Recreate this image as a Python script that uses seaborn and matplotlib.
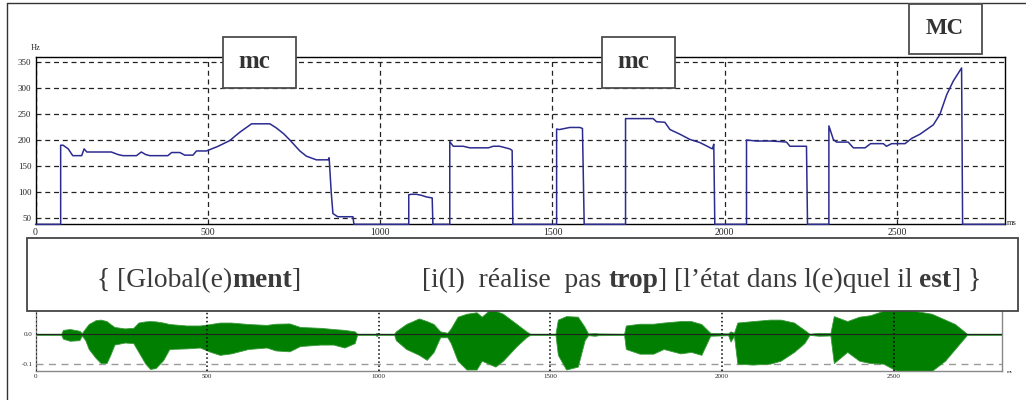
import numpy as np
import pandas as pd
import matplotlib
matplotlib.use("Agg")
import matplotlib.pyplot as plt
import seaborn as sns
from matplotlib.patches import Rectangle
from matplotlib.lines import Line2D

# ---- F0 contour (time in ms, f0 in Hz; 0 = unvoiced frame) ----
f0_time = [0, 73, 73, 80, 95, 108, 134, 141, 149, 220, 240, 254, 293, 307, 320,
           332, 384, 395, 419, 433, 457, 467, 496, 530, 564, 580, 593, 627, 680,
           699, 720, 738, 767, 786, 815, 849, 852, 858, 863, 877, 921, 924,
           1083, 1083, 1090, 1105, 1120, 1134, 1151, 1153,
           1202, 1202, 1212, 1241, 1260, 1314, 1328, 1347, 1376, 1383, 1385,
           1512, 1512, 1520, 1550, 1580, 1587, 1592,
           1712, 1712, 1792, 1802, 1826, 1841, 1870, 1899, 1928, 1964, 1968, 1971,
           2063, 2063, 2092, 2131, 2160, 2179, 2189, 2237, 2240,
           2302, 2302, 2315, 2324, 2358, 2373, 2407, 2423, 2460, 2469, 2484, 2523,
           2542, 2566, 2605, 2624, 2644, 2663, 2687, 2690, 2813]
f0_hz = [0, 0, 190, 190, 183, 170, 170, 183, 177, 177, 172, 170, 170, 177, 172,
         170, 170, 176, 176, 171, 171, 179, 179, 188, 199, 208, 215, 231, 231,
         223, 212, 200, 179, 169, 162, 162, 166, 100, 59, 53, 53, 0,
         0, 95, 96, 96, 94, 91, 89, 0,
         0, 197, 188, 188, 185, 185, 188, 188, 183, 180, 0,
         0, 221, 220, 224, 224, 222, 0,
         0, 241, 241, 235, 234, 220, 211, 201, 195, 183, 192, 0,
         0, 200, 198, 198, 197, 196, 188, 188, 0,
         0, 227, 201, 196, 196, 185, 185, 193, 193, 188, 193, 193,
         203, 211, 229, 249, 287, 313, 338, 0, 0]

# ---- waveform amplitude envelope (time in ms) ----
wave_time = [0, 75, 80, 100, 128, 135, 145, 155, 175, 190, 207, 218, 230, 260, 285,
             300, 320, 334, 350, 372, 390, 440, 479, 510, 537, 570, 620, 673, 700,
             740, 771, 830, 868, 900, 930, 937, 990, 994, 998, 1045, 1050, 1080,
             1117, 1140, 1160, 1179, 1200, 1210, 1230, 1256, 1285, 1300, 1320,
             1340, 1362, 1402, 1430, 1441, 1515, 1522, 1546, 1580, 1600, 1610,
             1630, 1640, 1715, 1720, 1760, 1800, 1830, 1879, 1910, 1940, 1966,
             2018, 2025, 2035, 2045, 2090, 2140, 2171, 2210, 2240, 2255, 2282,
             2316, 2326, 2365, 2400, 2432, 2470, 2510, 2560, 2611, 2650, 2679,
             2714, 2816]
wave_upper = [0.002, 0.002, 0.015, 0.018, 0.012, 0.004, 0.02, 0.035, 0.048, 0.05,
              0.045, 0.035, 0.025, 0.02, 0.022, 0.04, 0.044, 0.045, 0.044, 0.04,
              0.035, 0.03, 0.03, 0.035, 0.04, 0.04, 0.035, 0.032, 0.036, 0.037,
              0.025, 0.022, 0.018, 0.015, 0.01, 0.002, 0.002, 0.005, 0.002, 0.002,
              0.01, 0.035, 0.054, 0.045, 0.035, 0.01, 0.005, 0.02, 0.06, 0.07,
              0.075, 0.06, 0.08, 0.08, 0.07, 0.035, 0.01, 0.002, 0.002, 0.05,
              0.062, 0.06, 0.025, 0.003, 0.004, 0.003, 0.002, 0.03, 0.036, 0.036,
              0.04, 0.045, 0.045, 0.035, 0.005, 0.003, 0.01, 0.005, 0.04, 0.045,
              0.05, 0.05, 0.04, 0.015, 0.002, 0.005, 0.004, 0.062, 0.045, 0.06,
              0.065, 0.08, 0.085, 0.08, 0.07, 0.05, 0.035, 0.002, 0.002]
wave_lower = [-0.002, -0.002, -0.015, -0.022, -0.02, -0.004, -0.02, -0.05, -0.08,
              -0.098, -0.098, -0.07, -0.035, -0.028, -0.03, -0.06, -0.1, -0.118,
              -0.115, -0.088, -0.05, -0.048, -0.045, -0.06, -0.07, -0.065, -0.05,
              -0.045, -0.055, -0.058, -0.04, -0.035, -0.035, -0.045, -0.03, -0.002,
              -0.002, -0.006, -0.002, -0.002, -0.02, -0.05, -0.07, -0.087, -0.06,
              -0.01, -0.01, -0.03, -0.09, -0.12, -0.12, -0.09, -0.1, -0.11, -0.09,
              -0.04, -0.01, -0.002, -0.002, -0.07, -0.12, -0.11, -0.02, -0.003,
              -0.005, -0.003, -0.002, -0.05, -0.066, -0.066, -0.05, -0.065, -0.06,
              -0.07, -0.005, -0.003, -0.025, -0.005, -0.1, -0.103, -0.1, -0.09,
              -0.06, -0.03, -0.002, -0.005, -0.004, -0.098, -0.06, -0.09, -0.098,
              -0.1, -0.125, -0.125, -0.125, -0.09, -0.05, -0.002, -0.002]

f0_ticks = [50, 100, 150, 200, 250, 300, 350]
time_ticks = [0, 500, 1000, 1500, 2000, 2500]
wave_ticks = [0.0, -0.1]
wave_tick_labels = ["0.0", "-0.1"]

# transcription: (text, bold) pieces for the two groups
group_a = [("{ [Global(e)", False), ("ment", True), ("]", False)]
group_b = [("[i(l)  réalise  pas", False), (" ", False), ("trop", True),
           ("] [l\u2019état dans l(e)quel il", False), (" ", False), ("est", True),
           ("] }", False)]

# accent tags above the contour: (label, x0, y0, x1, y1 in px, text x, text y, size)
tags = [("mc", 223, 37, 296, 88, 254, 62, 18),
        ("mc", 602, 37, 675, 88, 633, 61, 18),
        ("MC", 909, 4, 982, 54, 945, 28, 16.5)]

sns.set_style("white")
plt.rcParams["font.family"] = ["Liberation Serif", "DejaVu Serif"]

W, H = 1026, 400
fig = plt.figure(figsize=(W / 100, H / 100), dpi=100)


def fx(px):
    return px / W


def fy(py):
    return 1 - py / H


# ---------------- pitch panel ----------------
F0_MIN, F0_MAX = 38.5, 359
ax = fig.add_axes([fx(35.5), fy(224.3), fx(1005) - fx(35.5), fy(57) - fy(224.3)])
f0_df = pd.DataFrame({"t": f0_time, "f0": np.clip(np.array(f0_hz, float), F0_MIN, None)})
sns.lineplot(data=f0_df, x="t", y="f0", sort=False, estimator=None,
             color="#2b2b90", lw=1.1, ax=ax, clip_on=False, zorder=4)
ax.set_xlim(0, 2813)
ax.set_ylim(F0_MIN, F0_MAX)
ax.set_xticks(time_ticks)
ax.set_yticks(f0_ticks)
ax.grid(True, ls=(0, (4, 3)), color="#222222", lw=0.9)
ax.set_xlabel("")
ax.set_ylabel("")
for s in ax.spines.values():
    s.set_color("black")
    s.set_linewidth(1.0)
ax.tick_params(axis="y", length=0, pad=3, labelsize=6.5)
ax.tick_params(axis="x", length=0, pad=3, labelsize=7)
fig.text(fx(36), fy(48), "Hz", ha="center", va="center", fontsize=6)
fig.text(fx(1012), fy(223), "ms", ha="center", va="center", fontsize=6)

# ---------------- waveform panel ----------------
ax2 = fig.add_axes([fx(35.5), fy(371), fx(1002) - fx(35.5), fy(297.6) - fy(371)])
ax2.fill_between(wave_time, wave_lower, wave_upper, color="#007f00", lw=0.6,
                 edgecolor="#3a9a3a", zorder=2)
ax2.axhline(0.0, color="#222222", lw=0.8, zorder=3)
ax2.axhline(-0.1, color="#9a9a9a", lw=1.0, ls=(0, (5, 4)), zorder=1)
ax2.set_xlim(0, 2816)
ax2.set_ylim(-0.125, 0.125)
ax2.set_xticks(time_ticks)
ax2.set_yticks(wave_ticks)
ax2.set_yticklabels(wave_tick_labels)
ax2.grid(axis="x", ls=":", color="black", lw=1.1, zorder=4)
ax2.grid(axis="y", visible=False)
ax2.set_axisbelow(False)
for s in ax2.spines.values():
    s.set_color("#888888")
    s.set_linewidth(1.0)
ax2.tick_params(axis="both", length=0, pad=2, labelsize=5)
fig.text(fx(1010), fy(372), "ms", ha="center", va="center", fontsize=3.5)

# ---------------- transcription box ----------------
fig.add_artist(Rectangle((fx(27), fy(311)), fx(1018) - fx(27), fy(238) - fy(311),
                         transform=fig.transFigure, facecolor="white",
                         edgecolor="#444444", lw=1.3, zorder=5))

renderer = fig.canvas.get_renderer()
TXT_SIZE = 19.8
TXT_COLOR = "#3a3a3a"


def text_width(s, bold):
    # advance width of a piece, including any spaces at its ends
    probe = fig.text(0, 0, "|" + s + "|", fontsize=TXT_SIZE,
                     fontweight="bold" if bold else "normal")
    bar = fig.text(0, 0, "||", fontsize=TXT_SIZE,
                   fontweight="bold" if bold else "normal")
    w = probe.get_window_extent(renderer).width - bar.get_window_extent(renderer).width
    probe.remove()
    bar.remove()
    return w


def draw_group(pieces, x_px, y_px):
    x = x_px
    for s, bold in pieces:
        if s.strip():
            fig.text(fx(x), fy(y_px), s, fontsize=TXT_SIZE, color=TXT_COLOR,
                     fontweight="bold" if bold else "normal",
                     ha="left", va="baseline", zorder=6)
        x += text_width(s, bold)


draw_group(group_a, 97, 287)
draw_group(group_b, 422, 287)

# ---------------- accent tags ----------------
for label, x0, y0, x1, y1, tx, ty, size in tags:
    fig.add_artist(Rectangle((fx(x0), fy(y1)), fx(x1) - fx(x0), fy(y0) - fy(y1),
                             transform=fig.transFigure, facecolor="white",
                             edgecolor="#4d4d4d", lw=1.3, zorder=5))
    fig.text(fx(tx), fy(ty), label, ha="center", va="center", fontsize=size,
             fontweight="bold", color="#333333", zorder=6)

# ---------------- outer frame ----------------
fig.add_artist(Line2D([fx(7), fx(7)], [fy(3), fy(400)], transform=fig.transFigure,
                      color="#333333", lw=1.0))
fig.add_artist(Line2D([fx(7), fx(1026)], [fy(3), fy(3)], transform=fig.transFigure,
                      color="#333333", lw=1.0))

fig.savefig("out.png", dpi=100)
